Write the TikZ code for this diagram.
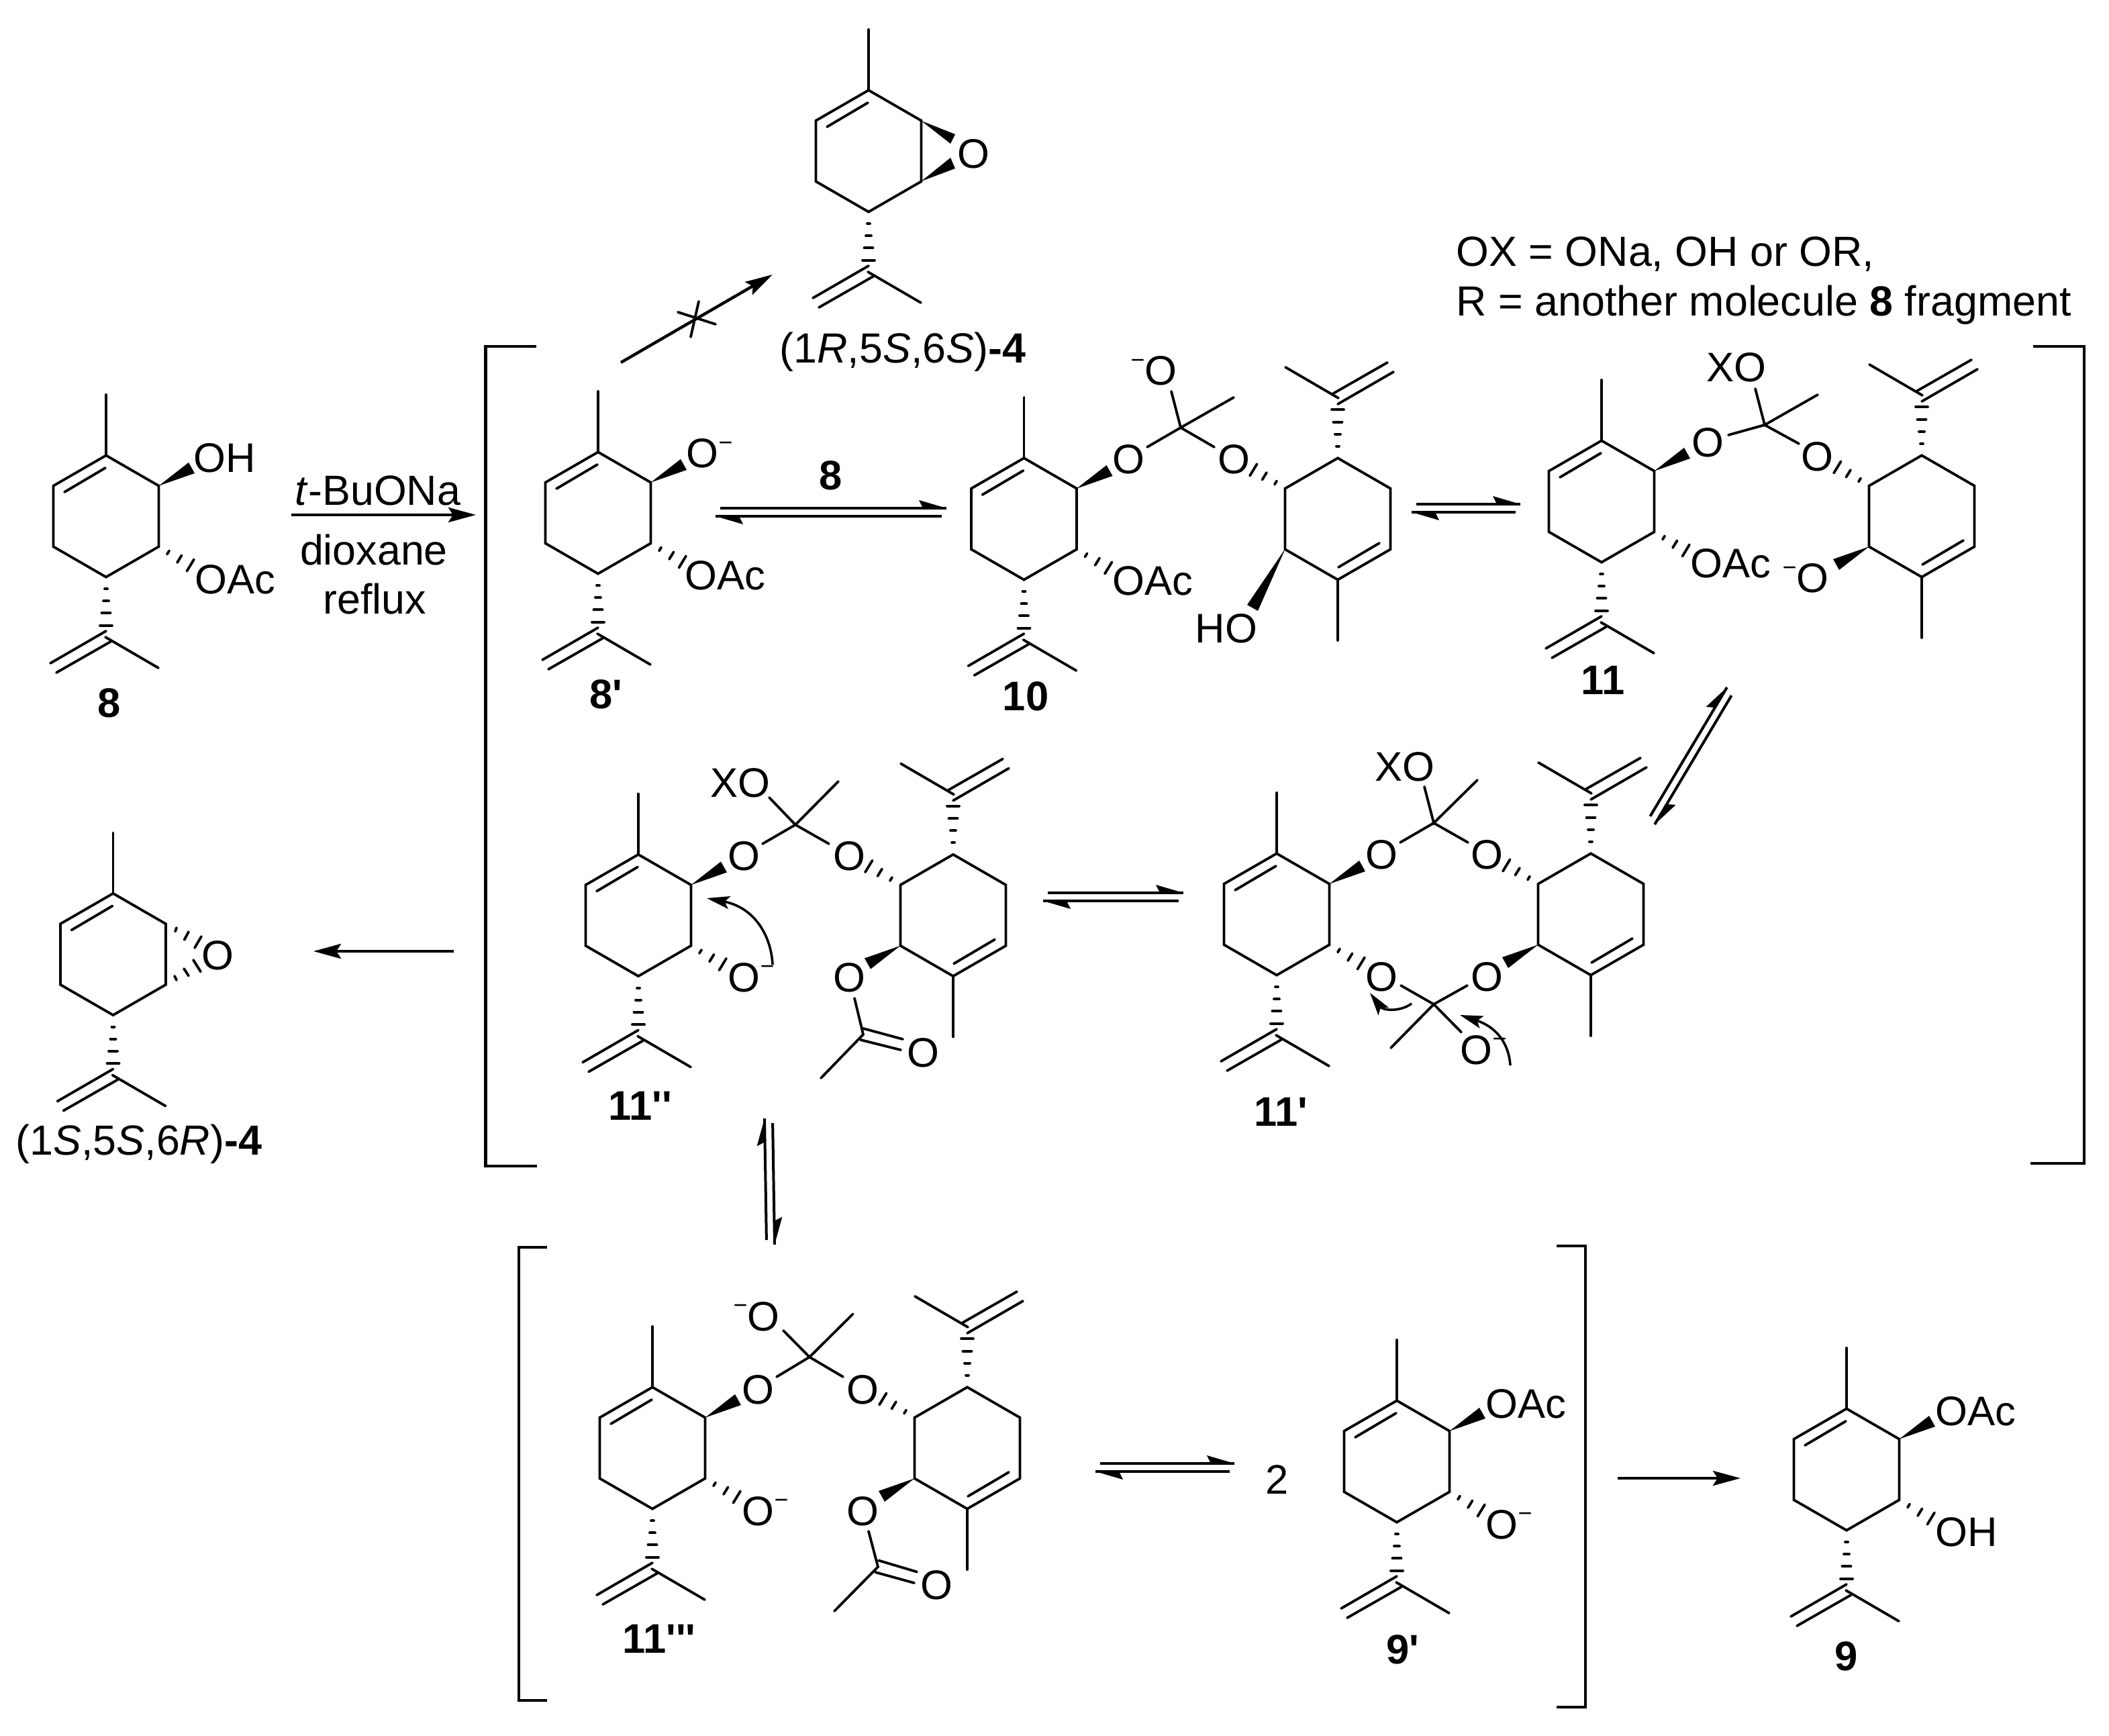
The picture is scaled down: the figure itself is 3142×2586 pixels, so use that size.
\documentclass[tikz,border=0pt]{standalone}
\usepackage{fontspec}
\usepackage{tikz}
\usetikzlibrary{arrows.meta, calc, positioning}
\newfontfamily\chemfont{Liberation Sans}
\newcommand{\supminus}{\raisebox{0.25cm}{\fontsize{10.2pt}{10pt}\selectfont −}}
\tikzstyle{bond} = [line width=0.038cm, line cap=round, line join=miter]
\tikzstyle{hashb} = [line width=0.038cm, line cap=round]
\tikzstyle{brk} = [line width=0.044cm, line join=miter]
\tikzstyle{atomtext} = [anchor=base west, inner sep=0pt, font=\chemfont\fontsize{17.5pt}{20pt}\selectfont]
\tikzstyle{cmpd} = [anchor=base, inner sep=0pt, font=\chemfont\bfseries\fontsize{17.5pt}{20pt}\selectfont]
\tikzstyle{captext} = [anchor=base west, inner sep=0pt, font=\chemfont\fontsize{17.85pt}{20pt}\selectfont]
\newcommand{\menthring}{
	\draw[bond] (-78.5,-45.3) -- (0,-90.6) -- (78.5,-45.3) -- (78.5,45.3) -- (0,90.6) -- (-78.5,45.3) -- cycle;
	\draw[bond] (-62,-36) -- (-1,-72);
	\draw[bond] (0,-90.6) -- (0,-181);
	\draw[hashb] (-2,108.3) -- (2,108.3);
	\draw[hashb] (-4,126.3) -- (4,126.3);
	\draw[hashb] (-6.5,144.3) -- (6.5,144.3);
	\draw[hashb] (-9,162.7) -- (9,162.7);
	\draw[bond] (0,171) -- (-83,219);
	\draw[bond] (7,186.7) -- (-74,233);
	\draw[bond] (-1,180) -- (78,226);
}
\newcommand{\hashlr}{
	\draw[hashb] (90.9,56.6) -- (94.1,51.4);
	\draw[hashb] (106,69) -- (112.6,58.3);
	\draw[hashb] (120.4,81.7) -- (131,64.3);
}
\tikzset{
	RARROW/.style={line width=0.044cm, -{Stealth[length=0.41cm, width=0.22cm, inset=0.07cm]}},
	CARROW/.style={line width=0.036cm, -{Stealth[length=0.34cm, width=0.19cm, inset=0.07cm]}},
	menth/.pic={\menthring},
	menthol/.pic={\menthring \hashlr},
	carvyl/.pic={
		\menthring
		\hashlr
		\fill (78.5,-45.3) -- (123,-80) -- (132,-64) -- cycle;
	},
}
% half of an equilibrium arrow, on the left of #1 -> #2
\newcommand{\halfarrow}[2]{
	\draw[line width=0.04cm] ($(#1)!0.07cm!(#2)!0.06cm!90:(#2)$) -- ($(#2)!0.06cm!-90:(#1)$);
	\fill ($(#2)!0.06cm!-90:(#1)$) -- ($(#2)!0.41cm!(#1)!0.18cm!-90:(#1)$) -- ($(#2)!0.35cm!(#1)!0.06cm!-90:(#1)$) -- cycle;
}
\newcommand{\equilib}[2]{\halfarrow{#1}{#2}\halfarrow{#2}{#1}}
\begin{document}
\begin{tikzpicture}[x=0.01cm, y=-0.01cm]
	\useasboundingbox (0,0) rectangle (3142,2586);
	% brackets
	\draw[brk] (799,516) -- (723.5,516) -- (723.5,1737) -- (800,1737);
	\draw[brk] (3029,516) -- (3105,516) -- (3105,1733) -- (3025,1733);
	\draw[brk] (815,1858) -- (773,1858) -- (773,2533) -- (815,2533);
	\draw[brk] (2319,1856) -- (2362,1856) -- (2362,2543) -- (2319,2543);

	% 8
	\pic (m8) at (158,769) {carvyl};
	\node[atomtext] (m8oh) at (288,704) {OH};
	\node[atomtext] (m8oac) at (290,885) {OAc};
	\node[cmpd] (m8lab) at (163,1069) {8};
	\node[captext, anchor=base] (reag1) at (563,753) {\textit{t}-BuONa};
	\node[captext, anchor=base] (reag2) at (557,842) {dioxane};
	\node[captext, anchor=base] (reag3) at (558,915) {reflux};
	\coordinate (a1s) at (434,767);
	\coordinate (a1e) at (709,767);
	\draw[RARROW] (a1s) -- (a1e);

	% (1R,5S,6S)-4
	\pic (e4) at (1294,225) {menth};
	\fill (1372.5,180) -- (1423,200) -- (1416,214) -- cycle;
	\fill (1372.5,270) -- (1416,235) -- (1423,251) -- cycle;
	\node[atomtext] (e4o) at (1426,251) {O};
	\node[captext] (e4lab) at (1161,541) {(1\textit{R},5\textit{S},6\textit{S})\textbf{-4}};
	\coordinate (a2s) at (925,540);
	\coordinate (a2e) at (1151,409);
	\draw[RARROW] (a2s) -- (a2e);
	\draw[bond] (1010,465) -- (1066,483);
	\draw[bond] (1041,449) -- (1029,502);

	% 8'
	\pic (m8p) at (891,764) {carvyl};
	\node[atomtext] (m8po) at (1022,697) {O\supminus};
	\node[atomtext] (m8poac) at (1020,879) {OAc};
	\node[cmpd] (m8plab) at (903,1056) {8'};
	\node[cmpd] (eq1lab) at (1238,730) {8};
	\coordinate (eq1a) at (1066,763);
	\coordinate (eq1b) at (1410,763);
	\equilib{eq1a}{eq1b}

	% 10
	\pic (m10a) at (1525.5,773) {carvyl};
	\pic[rotate=180] (m10b) at (1993,773) {menthol};
	\fill (1915,817) -- (1858,901) -- (1874,910) -- cycle;
	\draw[bond] (1709,666) -- (1759,637) -- (1809,666);
	\draw[bond] (1745,583) -- (1759,637) -- (1838,592);
	\node[atomtext] (m10ol) at (1657,706) {O};
	\node[atomtext] (m10or) at (1814,706) {O};
	\node[atomtext] (m10ot) at (1684,574) {\supminus O};
	\node[atomtext] (m10oac) at (1657,887) {OAc};
	\node[atomtext] (m10ho) at (1780,958) {HO};
	\node[cmpd] (m10lab) at (1528,1059) {10};
	\coordinate (eq2a) at (2103,757);
	\coordinate (eq2b) at (2265,757);
	\equilib{eq2a}{eq2b}

	% note
	\node[captext] (note1) at (2169,397) {OX = ONa, OH or OR,};
	\node[captext] (note2) at (2169,471) {R = another molecule \textbf{8} fragment};

	% 11
	\pic (m11a) at (2386,747) {carvyl};
	\pic[rotate=180] (m11b) at (2863,769) {carvyl};
	\draw[bond] (2575,648) -- (2629,633) -- (2680,661);
	\draw[bond] (2615,579) -- (2629,633) -- (2708,588);
	\node[atomtext] (m11ol) at (2520,681) {O};
	\node[atomtext] (m11or) at (2683,702) {O};
	\node[atomtext] (m11xo) at (2542,569) {XO};
	\node[atomtext] (m11oac) at (2518,861) {OAc};
	\node[atomtext] (m11om) at (2655,883) {\supminus O};
	\node[cmpd] (m11lab) at (2388,1035) {11};
	\coordinate (eq3a) at (2460,1225);
	\coordinate (eq3b) at (2578,1027);
	\equilib{eq3a}{eq3b}

	% 11'
	\pic (m11pa) at (1902,1362) {carvyl};
	\pic[rotate=180] (m11pb) at (2370,1362) {carvyl};
	\draw[bond] (2086,1255) -- (2136,1226) -- (2187,1255);
	\draw[bond] (2122,1172) -- (2136,1226) -- (2201,1162);
	\draw[bond] (2087,1468) -- (2136,1496) -- (2186,1468);
	\draw[bond] (2072,1561) -- (2136,1496) -- (2177,1537.5);
	\node[atomtext] (m11pol) at (2034,1295) {O};
	\node[atomtext] (m11por) at (2191,1295) {O};
	\node[atomtext] (m11pxo) at (2048,1164) {XO};
	\node[atomtext] (m11pbl) at (2034,1476) {O};
	\node[atomtext] (m11pbr) at (2191,1476) {O};
	\node[atomtext] (m11pom) at (2175,1585) {O\supminus};
	\node[cmpd] (m11plab) at (1908,1677) {11'};
	\draw[CARROW] (2103,1495) .. controls (2085,1508) and (2060,1505) .. (2041,1479);
	\draw[CARROW] (2250,1587) .. controls (2248,1555) and (2230,1530) .. (2175,1512);

	% 11''
	\pic (m11qa) at (951,1363.5) {carvyl};
	\pic[rotate=180] (m11qb) at (1420,1363.5) {carvyl};
	\draw[bond] (1136,1257) -- (1185,1228.6) -- (1235,1257);
	\draw[bond] (1146,1188) -- (1185,1228.6) -- (1249,1164);
	\node[atomtext] (m11qol) at (1084,1297) {O};
	\node[atomtext] (m11qor) at (1241,1297) {O};
	\node[atomtext] (m11qxo) at (1058,1188) {XO};
	\node[atomtext] (m11qom) at (1084,1477) {O\supminus};
	\node[atomtext] (m11qoc) at (1241,1477) {O};
	\draw[bond] (1273,1487) -- (1286,1541) -- (1223,1606);
	\draw[bond] (1286,1532) -- (1345,1548);
	\draw[bond] (1282,1549) -- (1342,1564);
	\node[atomtext] (m11qoa) at (1351,1589) {O};
	\node[cmpd] (m11qlab) at (954,1668) {11''};
	\draw[CARROW] (1151,1437) .. controls (1149,1395) and (1125,1352) .. (1053,1338);
	\coordinate (eq4a) at (1554,1336);
	\coordinate (eq4b) at (1763,1336);
	\equilib{eq4a}{eq4b}
	\coordinate (eq5a) at (1148,1854);
	\coordinate (eq5b) at (1145,1666);
	\equilib{eq5a}{eq5b}

	% (1S,5S,6R)-4
	\pic (e4b) at (168.5,1421.5) {menth};
	\draw[hashb] (261,1387.5) -- (263,1382);
	\draw[hashb] (274.6,1400) -- (281,1388);
	\draw[hashb] (290,1412) -- (300,1395);
	\draw[hashb] (263,1460) -- (260,1454);
	\draw[hashb] (281,1453.6) -- (274,1443);
	\draw[hashb] (299,1447.5) -- (288,1430);
	\node[atomtext] (e4bo) at (300,1445) {O};
	\node[captext] (e4blab) at (23,1720) {(1\textit{S},5\textit{S},6\textit{R})\textbf{-4}};
	\coordinate (a3s) at (676,1417);
	\coordinate (a3e) at (467,1417);
	\draw[RARROW] (a3s) -- (a3e);

	% 11'''
	\pic (m11ra) at (972,2157) {carvyl};
	\pic[rotate=180] (m11rb) at (1441,2157) {carvyl};
	\draw[bond] (1157,2051) -- (1206,2021.5) -- (1256,2051);
	\draw[bond] (1167,1982) -- (1206,2021.5) -- (1270.5,1957.5);
	\node[atomtext] (m11rol) at (1105,2091) {O};
	\node[atomtext] (m11ror) at (1261,2091) {O};
	\node[atomtext] (m11rot) at (1092,1982) {\supminus O};
	\node[atomtext] (m11rom) at (1105,2272) {O\supminus};
	\node[atomtext] (m11roc) at (1261,2272) {O};
	\draw[bond] (1294,2281) -- (1308,2334) -- (1243,2400);
	\draw[bond] (1309,2324.5) -- (1366,2341.5);
	\draw[bond] (1304,2342) -- (1362,2358);
	\node[atomtext] (m11roa) at (1371,2382) {O};
	\node[cmpd] (m11rlab) at (982,2462) {11'''};
	\coordinate (eq6a) at (1632,2186);
	\coordinate (eq6b) at (1839,2186);
	\equilib{eq6a}{eq6b}

	% 9'
	\node[atomtext] (two) at (1885,2225) {2};
	\pic (m9p) at (2081,2177) {carvyl};
	\node[atomtext] (m9poac) at (2213,2112) {OAc};
	\node[atomtext] (m9po) at (2213,2292) {O\supminus};
	\node[cmpd] (m9plab) at (2090,2478) {9'};
	\coordinate (a4s) at (2410,2202);
	\coordinate (a4e) at (2593,2202);
	\draw[RARROW] (a4s) -- (a4e);

	% 9
	\pic (m9) at (2751,2189) {carvyl};
	\node[atomtext] (m9oac) at (2883,2123) {OAc};
	\node[atomtext] (m9oh) at (2883,2303) {OH};
	\node[cmpd] (m9lab) at (2751,2488) {9};
\end{tikzpicture}
\end{document}
